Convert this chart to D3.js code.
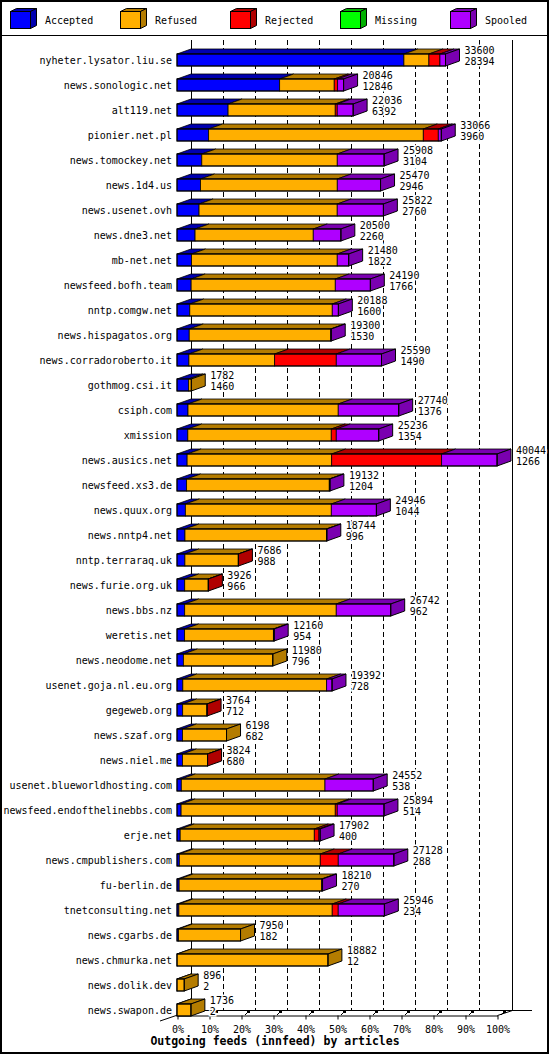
<!DOCTYPE html>
<html>
<head>
<meta charset="utf-8">
<script src="https://cdn.jsdelivr.net/npm/d3@7"></script>
<style>
  body { margin: 0; background: #fff; }
  svg { display: block; font-family: 'DejaVu Sans Mono', monospace; }
  .value { paint-order: stroke; stroke: #fff; stroke-width: 3px; }
</style>
</head>
<body>
<div class="chart"></div>
<script>
// innfeed outgoing feeds, articles per peer
const hosts = [
    'nyheter.lysator.liu.se', 'news.sonologic.net', 'alt119.net', 'pionier.net.pl',
    'news.tomockey.net', 'news.1d4.us', 'news.usenet.ovh', 'news.dne3.net', 'mb-net.net',
    'newsfeed.bofh.team', 'nntp.comgw.net', 'news.hispagatos.org', 'news.corradoroberto.it',
    'gothmog.csi.it', 'csiph.com', 'xmission', 'news.ausics.net', 'newsfeed.xs3.de',
    'news.quux.org', 'news.nntp4.net', 'nntp.terraraq.uk', 'news.furie.org.uk', 'news.bbs.nz',
    'weretis.net', 'news.neodome.net', 'usenet.goja.nl.eu.org', 'gegeweb.org', 'news.szaf.org',
    'news.niel.me', 'usenet.blueworldhosting.com', 'newsfeed.endofthelinebbs.com', 'erje.net',
    'news.cmpublishers.com', 'fu-berlin.de', 'tnetconsulting.net', 'news.cgarbs.de',
    'news.chmurka.net', 'news.dolik.dev', 'news.swapon.de'
];
const totals = [
    33600, 20846, 22036, 33066, 25908, 25470, 25822, 20500, 21480, 24190, 20188, 19300, 25590,
    1782, 27740, 25236, 40044, 19132, 24946, 18744, 7686, 3926, 26742, 12160, 11980, 19392,
    3764, 6198, 3824, 24552, 25894, 17902, 27128, 18210, 25946, 7950, 18882, 896, 1736
];
const accepted = [
    28394, 12846, 6392, 3960, 3104, 2946, 2760, 2260, 1822, 1766, 1600, 1530, 1490,
    1460, 1376, 1354, 1266, 1204, 1044, 996, 988, 966, 962, 954, 796, 728,
    712, 682, 680, 538, 514, 400, 288, 270, 234, 182, 12, 2, 2
];
const refused = [
    3130, 6830, 13410, 26860, 16950, 17110, 17290, 14790, 18230, 18040, 17830, 17700, 10730,
    322, 18800, 17950, 18090, 17850, 18265, 17718, 6678, 2940, 18965, 11106, 11184, 18000,
    3032, 5516, 3124, 17980, 19290, 16780, 17640, 17830, 19190, 7768, 18870, 894, 1734
];
const rejected = [
    1380, 425, 250, 1876, 0, 0, 0, 0, 0, 0, 0, 0, 7710,
    0, 0, 625, 13760, 0, 0, 0, 20, 20, 0, 0, 0, 0,
    20, 0, 20, 0, 250, 585, 2250, 0, 750, 0, 0, 0, 0
];
const missing = [
    0, 0, 0, 0, 0, 0, 0, 0, 0, 0, 0, 0, 0,
    0, 0, 0, 0, 0, 0, 0, 0, 0, 0, 0, 0, 0,
    0, 0, 0, 0, 0, 0, 0, 0, 0, 0, 0, 0, 0
];
const spooled = [
    696, 745, 1984, 370, 5854, 5414, 5772, 3450, 1428, 4384, 758, 70, 5660,
    0, 7564, 5307, 6928, 78, 5637, 30, 0, 0, 6815, 100, 0, 664,
    0, 0, 0, 6034, 5840, 137, 6950, 110, 5772, 0, 0, 0, 0
];
const seriesNames = ['Accepted', 'Refused', 'Rejected', 'Missing', 'Spooled'];
const seriesValues = [accepted, refused, rejected, missing, spooled];
const percentTicks = [0, 10, 20, 30, 40, 50, 60, 70, 80, 90, 100];

const colors = ['#0000ff', '#ffaf00', '#ff0000', '#00ff00', '#af00ff'];
const darks = ['#0000b0', '#b47c00', '#b00000', '#00b000', '#7a00b0'];

const width = 550;
const height = 1055;
const depth = { x: 14, y: 5 };   // 3d offset of the back plane
const barH = 12;
const floorY = 1015;

const svg = d3.select('.chart')
    .append('svg')
    .attr('width', width)
    .attr('height', height);

// frame + legend separator
svg.append('rect')
    .attr('x', 1).attr('y', 1)
    .attr('width', 547).attr('height', 1052)
    .attr('fill', 'none').attr('stroke', '#000').attr('stroke-width', 2);
svg.append('line')
    .attr('x1', 1).attr('x2', 548).attr('y1', 35.5).attr('y2', 35.5)
    .attr('stroke', '#000');

// legend: little cubes
const legend = svg.selectAll('.legend')
    .data(seriesNames)
    .enter()
    .append('g')
    .attr('class', 'legend')
    .attr('transform', (d, i) => `translate(${10 + i * 110},0)`);

legend.append('path')
    .attr('d', 'M10.5,11.5 L16.5,8.5 L36.5,8.5 L30.5,11.5 Z')
    .attr('transform', 'translate(-10,0)')
    .attr('fill', (d, i) => darks[i]).attr('stroke', '#000');
legend.append('path')
    .attr('d', 'M20.5,11.5 L26.5,8.5 L26.5,25.5 L20.5,28.5 Z')
    .attr('fill', (d, i) => darks[i]).attr('stroke', '#000');
legend.append('rect')
    .attr('x', 0.5).attr('y', 11.5).attr('width', 20).attr('height', 17)
    .attr('fill', (d, i) => colors[i]).attr('stroke', '#000');
legend.append('text')
    .attr('x', 35).attr('y', 23.5)
    .attr('font-size', 10)
    .text(d => d);

// scales
const maxTotal = d3.max(totals);
const xScale = d3.scaleLinear([0, maxTotal], [177, 497]);
const pctScale = d3.scaleLinear([0, 100], [177, 497]);
const yScale = d3.scaleBand()
    .domain(hosts)
    .range([47, 1022]);

// dashed grid on the back wall
svg.append('g')
    .selectAll('line')
    .data(percentTicks.slice(1, -1))
    .enter()
    .append('line')
    .attr('x1', d => Math.round(pctScale(d) + depth.x) + 0.5)
    .attr('x2', d => Math.round(pctScale(d) + depth.x) + 0.5)
    .attr('y1', 40)
    .attr('y2', floorY - depth.y)
    .attr('stroke', '#000')
    .attr('stroke-dasharray', '5,3');

// back walls and floor
const walls = svg.append('g').attr('stroke', '#000').attr('fill', 'none');
walls.append('line').attr('x1', 191.5).attr('x2', 191.5).attr('y1', 40).attr('y2', 1010.5);
walls.append('line').attr('x1', 512.5).attr('x2', 512.5).attr('y1', 40).attr('y2', 1010.5);
walls.append('line').attr('x1', 191).attr('x2', 532).attr('y1', 1010.5).attr('y2', 1010.5);
walls.append('line').attr('x1', 160).attr('y1', 1021).attr('x2', 191).attr('y2', 1010.5);
walls.append('line').attr('x1', 497.5).attr('y1', 1015.5).attr('x2', 512.5).attr('y2', 1010.5);

// front axis
const xAxis = d3.axisBottom(pctScale)
    .tickValues(percentTicks)
    .tickFormat(d => d + '%')
    .tickSize(4)
    .tickSizeOuter(0)
    .tickPadding(6);

const xAxisDraw = svg.append('g')
    .attr('class', 'x axis')
    .attr('transform', `translate(0.5,${floorY + 0.5})`)
    .call(xAxis);
xAxisDraw.selectAll('text')
    .attr('font-family', 'DejaVu Sans Mono')
    .attr('font-size', 10)
    .attr('fill', '#000');

// small 3d tick marks on the floor
const floorTicks = svg.append('g');
floorTicks.selectAll('line')
    .data(percentTicks.slice(1))
    .enter()
    .append('line')
    .attr('x1', d => pctScale(d) + 4)
    .attr('y1', floorY)
    .attr('x2', d => pctScale(d) + 7)
    .attr('y2', floorY - 3)
    .attr('stroke', '#000');
floorTicks.selectAll('rect')
    .data(percentTicks.slice(1))
    .enter()
    .append('rect')
    .attr('x', d => pctScale(d) + 6)
    .attr('y', floorY - 4)
    .attr('width', 3)
    .attr('height', 2)
    .attr('fill', '#000');

// bars: one group per host, segments stacked along x
const rows = hosts.map((host, i) => {
    let start = 0;
    const segs = seriesValues.map((vals, s) => {
        const seg = { s, x0: start, x1: start + vals[i] };
        start += vals[i];
        return seg;
    }).filter(seg => seg.x1 > seg.x0);
    return { host, total: totals[i], acc: accepted[i], segs };
});

const bars = svg.selectAll('.bar')
    .data(rows)
    .enter()
    .append('g')
    .attr('class', 'bar')
    .attr('transform', d => `translate(0,${yScale(d.host) + yScale.bandwidth() / 2 - barH / 2})`);

// top faces
bars.selectAll('.top')
    .data(d => d.segs)
    .enter()
    .append('path')
    .attr('class', 'top')
    .attr('d', d => {
        const a = xScale(d.x0), b = xScale(d.x1);
        return `M${a},0.5 L${b},0.5 L${b + depth.x},${0.5 - depth.y} L${a + depth.x},${0.5 - depth.y} Z`;
    })
    .attr('fill', d => darks[d.s])
    .attr('stroke', '#000')
    .attr('stroke-width', 0.8);

// side face, coloured like the last segment
bars.append('path')
    .attr('d', d => {
        const e = xScale(d3.max(d.segs, s => s.x1));
        return `M${e},0.5 L${e + depth.x},${0.5 - depth.y} L${e + depth.x},${barH + 0.5 - depth.y} L${e},${barH + 0.5} Z`;
    })
    .attr('fill', d => darks[d.segs[d.segs.length - 1].s])
    .attr('stroke', '#000');

// front faces
bars.selectAll('.front')
    .data(d => d.segs)
    .enter()
    .append('rect')
    .attr('class', 'front')
    .attr('x', d => xScale(d.x0))
    .attr('y', 0.5)
    .attr('width', d => xScale(d.x1) - xScale(d.x0))
    .attr('height', barH)
    .attr('fill', d => colors[d.s])
    .attr('stroke', '#000')
    .attr('stroke-width', 0.8);

// outline of the whole front face
bars.append('rect')
    .attr('x', xScale(0))
    .attr('y', 0.5)
    .attr('width', d => xScale(d.total) - xScale(0))
    .attr('height', barH)
    .attr('fill', 'none')
    .attr('stroke', '#000');

// value labels: total on top, accepted below
bars.append('text')
    .attr('class', 'value')
    .attr('x', d => xScale(d.total) + 19)
    .attr('y', 0)
    .attr('font-size', 10)
    .text(d => d.total);
bars.append('text')
    .attr('class', 'value')
    .attr('x', d => xScale(d.total) + 19)
    .attr('y', 11.5)
    .attr('font-size', 10)
    .text(d => d.acc);

// host labels
svg.append('g')
    .selectAll('text')
    .data(hosts)
    .enter()
    .append('text')
    .attr('x', 172)
    .attr('y', d => yScale(d) + yScale.bandwidth() / 2 + 4)
    .attr('text-anchor', 'end')
    .attr('font-size', 10)
    .text(d => d);

// title
svg.append('text')
    .attr('x', 275)
    .attr('y', 1045)
    .attr('text-anchor', 'middle')
    .attr('font-size', 11.5)
    .attr('font-weight', 'bold')
    .text('Outgoing feeds (innfeed) by articles');
</script>
</body>
</html>
